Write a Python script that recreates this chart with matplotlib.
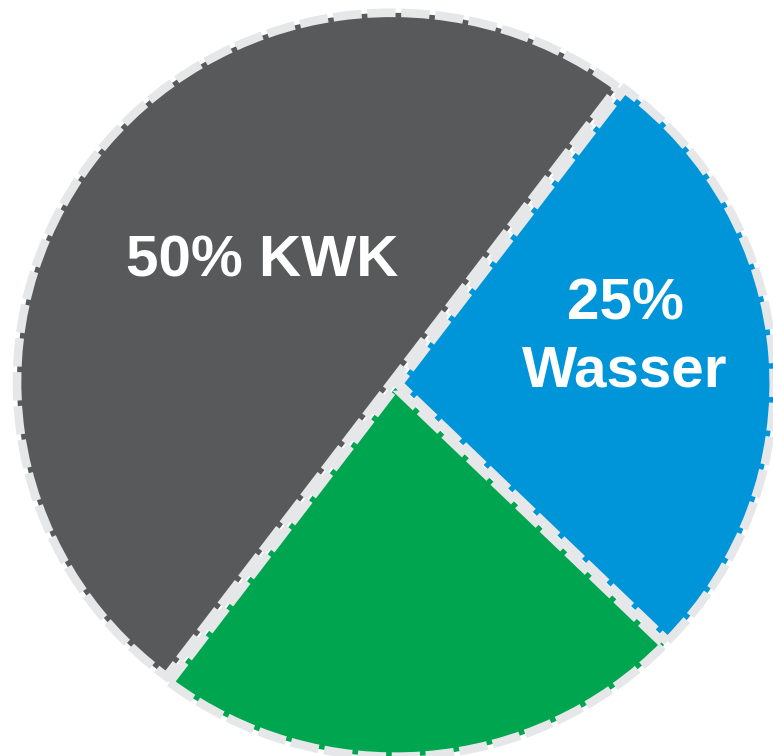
import matplotlib
matplotlib.use("Agg")
import matplotlib.pyplot as plt

# Data
categories = ["KWK", "Andere", "Wasser"]
values = [50, 23, 27]
labels = ["50% KWK", "", "25%\nWasser"]
colors = ["#58595b", "#00a54f", "#0095d9"]
explode = [0.01, 0.01, 0.01]

fig = plt.figure(figsize=(7.73, 7.56), dpi=100)
ax = fig.add_axes([0, 0, 1, 1])

wedges, _ = ax.pie(
    values,
    colors=colors,
    startangle=53,
    counterclock=True,
    explode=explode,
    radius=1.0,
    wedgeprops=dict(edgecolor="#e6e7e8", linewidth=6.2,
                    linestyle=(0, (3.3, 0.65))),
)
ax.set_aspect("auto")
ax.set_xlim(-395 / 375, (773 - 395) / 375)
ax.set_ylim(-372 / 369, 384 / 369)
ax.axis("off")

font = dict(family=["Liberation Sans", "DejaVu Sans"], weight="bold",
            color="white", fontsize=42, ha="center", va="center")
ax.text(262 / 773, 1 - 262 / 756, labels[0], transform=ax.transAxes, **font)
ax.text(625 / 773, 1 - 338 / 756, labels[2], transform=ax.transAxes,
        linespacing=1.29, **font)

fig.savefig("out.png", dpi=100, facecolor="white")
